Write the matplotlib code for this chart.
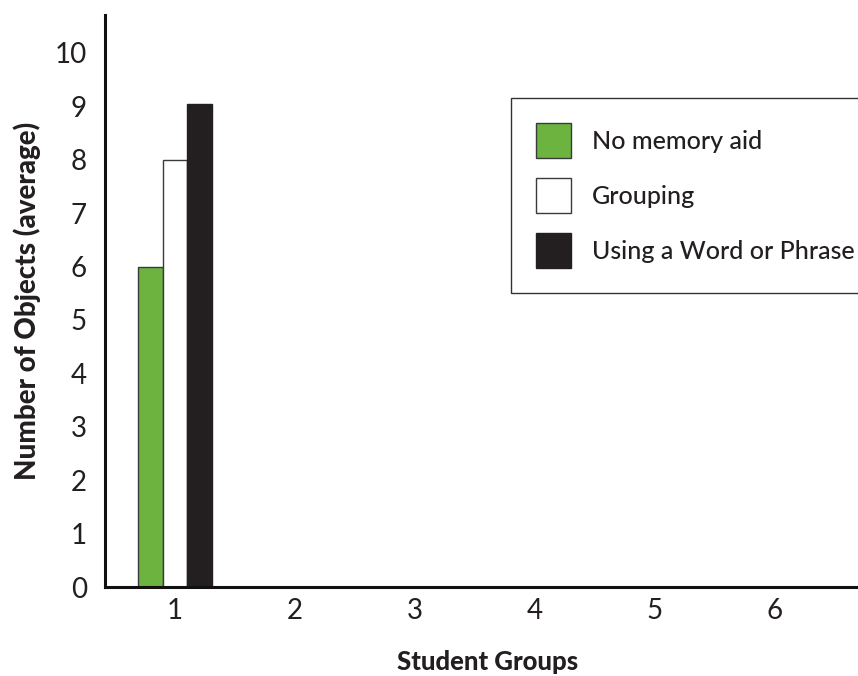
import numpy as np
import matplotlib.pyplot as plt

plt.rcParams['font.family'] = ['Lato', 'DejaVu Sans']

groups = [1, 2, 3, 4, 5, 6]
series_names = ['No memory aid', 'Grouping', 'Using a Word or Phrase']
no_aid = [6, 0, 0, 0, 0, 0]
grouping = [8, 0, 0, 0, 0, 0]
word_phrase = [9.05, 0, 0, 0, 0, 0]
y_ticks = [0, 1, 2, 3, 4, 5, 6, 7, 8, 9, 10]

fills = ['#6cb33f', '#ffffff', '#231f20']
edges = ['#3a3a3a', '#3a3a3a', '#231f20']

fig = plt.figure(figsize=(8.58, 6.76), dpi=100)
ax = fig.add_axes([105 / 858, 89 / 676, 753 / 858, 572 / 676])

x = np.array(groups, dtype=float)
w = 0.205
bars = []
for k, vals in enumerate([no_aid, grouping, word_phrase]):
    # groups without data get no bar at all
    xs = [xi for xi, v in zip(x, vals) if v > 0]
    vs = [v for v in vals if v > 0]
    b = ax.bar(np.array(xs) + (k - 1) * w, vs, width=w, color=fills[k],
               edgecolor=edges[k], linewidth=1.0, label=series_names[k], zorder=2)
    bars.append(b)

ax.set_xlim(1 - 70 / 120, 1 + 683 / 120)
ax.set_ylim(0, 10.71)
ax.set_xticks(groups)
ax.set_yticks(y_ticks)
ax.tick_params(length=0, labelsize=20, colors='#231f20')
ax.tick_params(axis='y', pad=13)
ax.tick_params(axis='x', pad=8)

for s in ['top', 'right']:
    ax.spines[s].set_visible(False)
for s in ['left', 'bottom']:
    ax.spines[s].set_linewidth(2.2)
    ax.spines[s].set_color('#111111')

ax.set_ylabel('Number of Objects (average)', fontsize=20, fontweight='black',
              ha='center', va='center', color='#231f20')
ax.yaxis.set_label_coords((27 - 105) / 753, 0.5)
ax.set_xlabel('Student Groups', fontsize=18.5, fontweight='black',
              ha='center', va='center', color='#231f20')
ax.xaxis.set_label_coords((488 - 105) / 753, (587 - 662) / 572)

leg = ax.legend(handles=bars, loc='upper left',
                bbox_to_anchor=(511 / 858, 1 - 98 / 676),
                bbox_transform=fig.transFigure, borderaxespad=0,
                fontsize=18, handlelength=1.4, handleheight=1.78,
                labelspacing=0.8, handletextpad=0.85, borderpad=1.0,
                fancybox=False, framealpha=1, edgecolor='#333333')
leg.get_frame().set_linewidth(1.0)
for t in leg.get_texts():
    t.set_fontweight('medium')
    t.set_color('#231f20')

fig.savefig('out.png', dpi=100)
